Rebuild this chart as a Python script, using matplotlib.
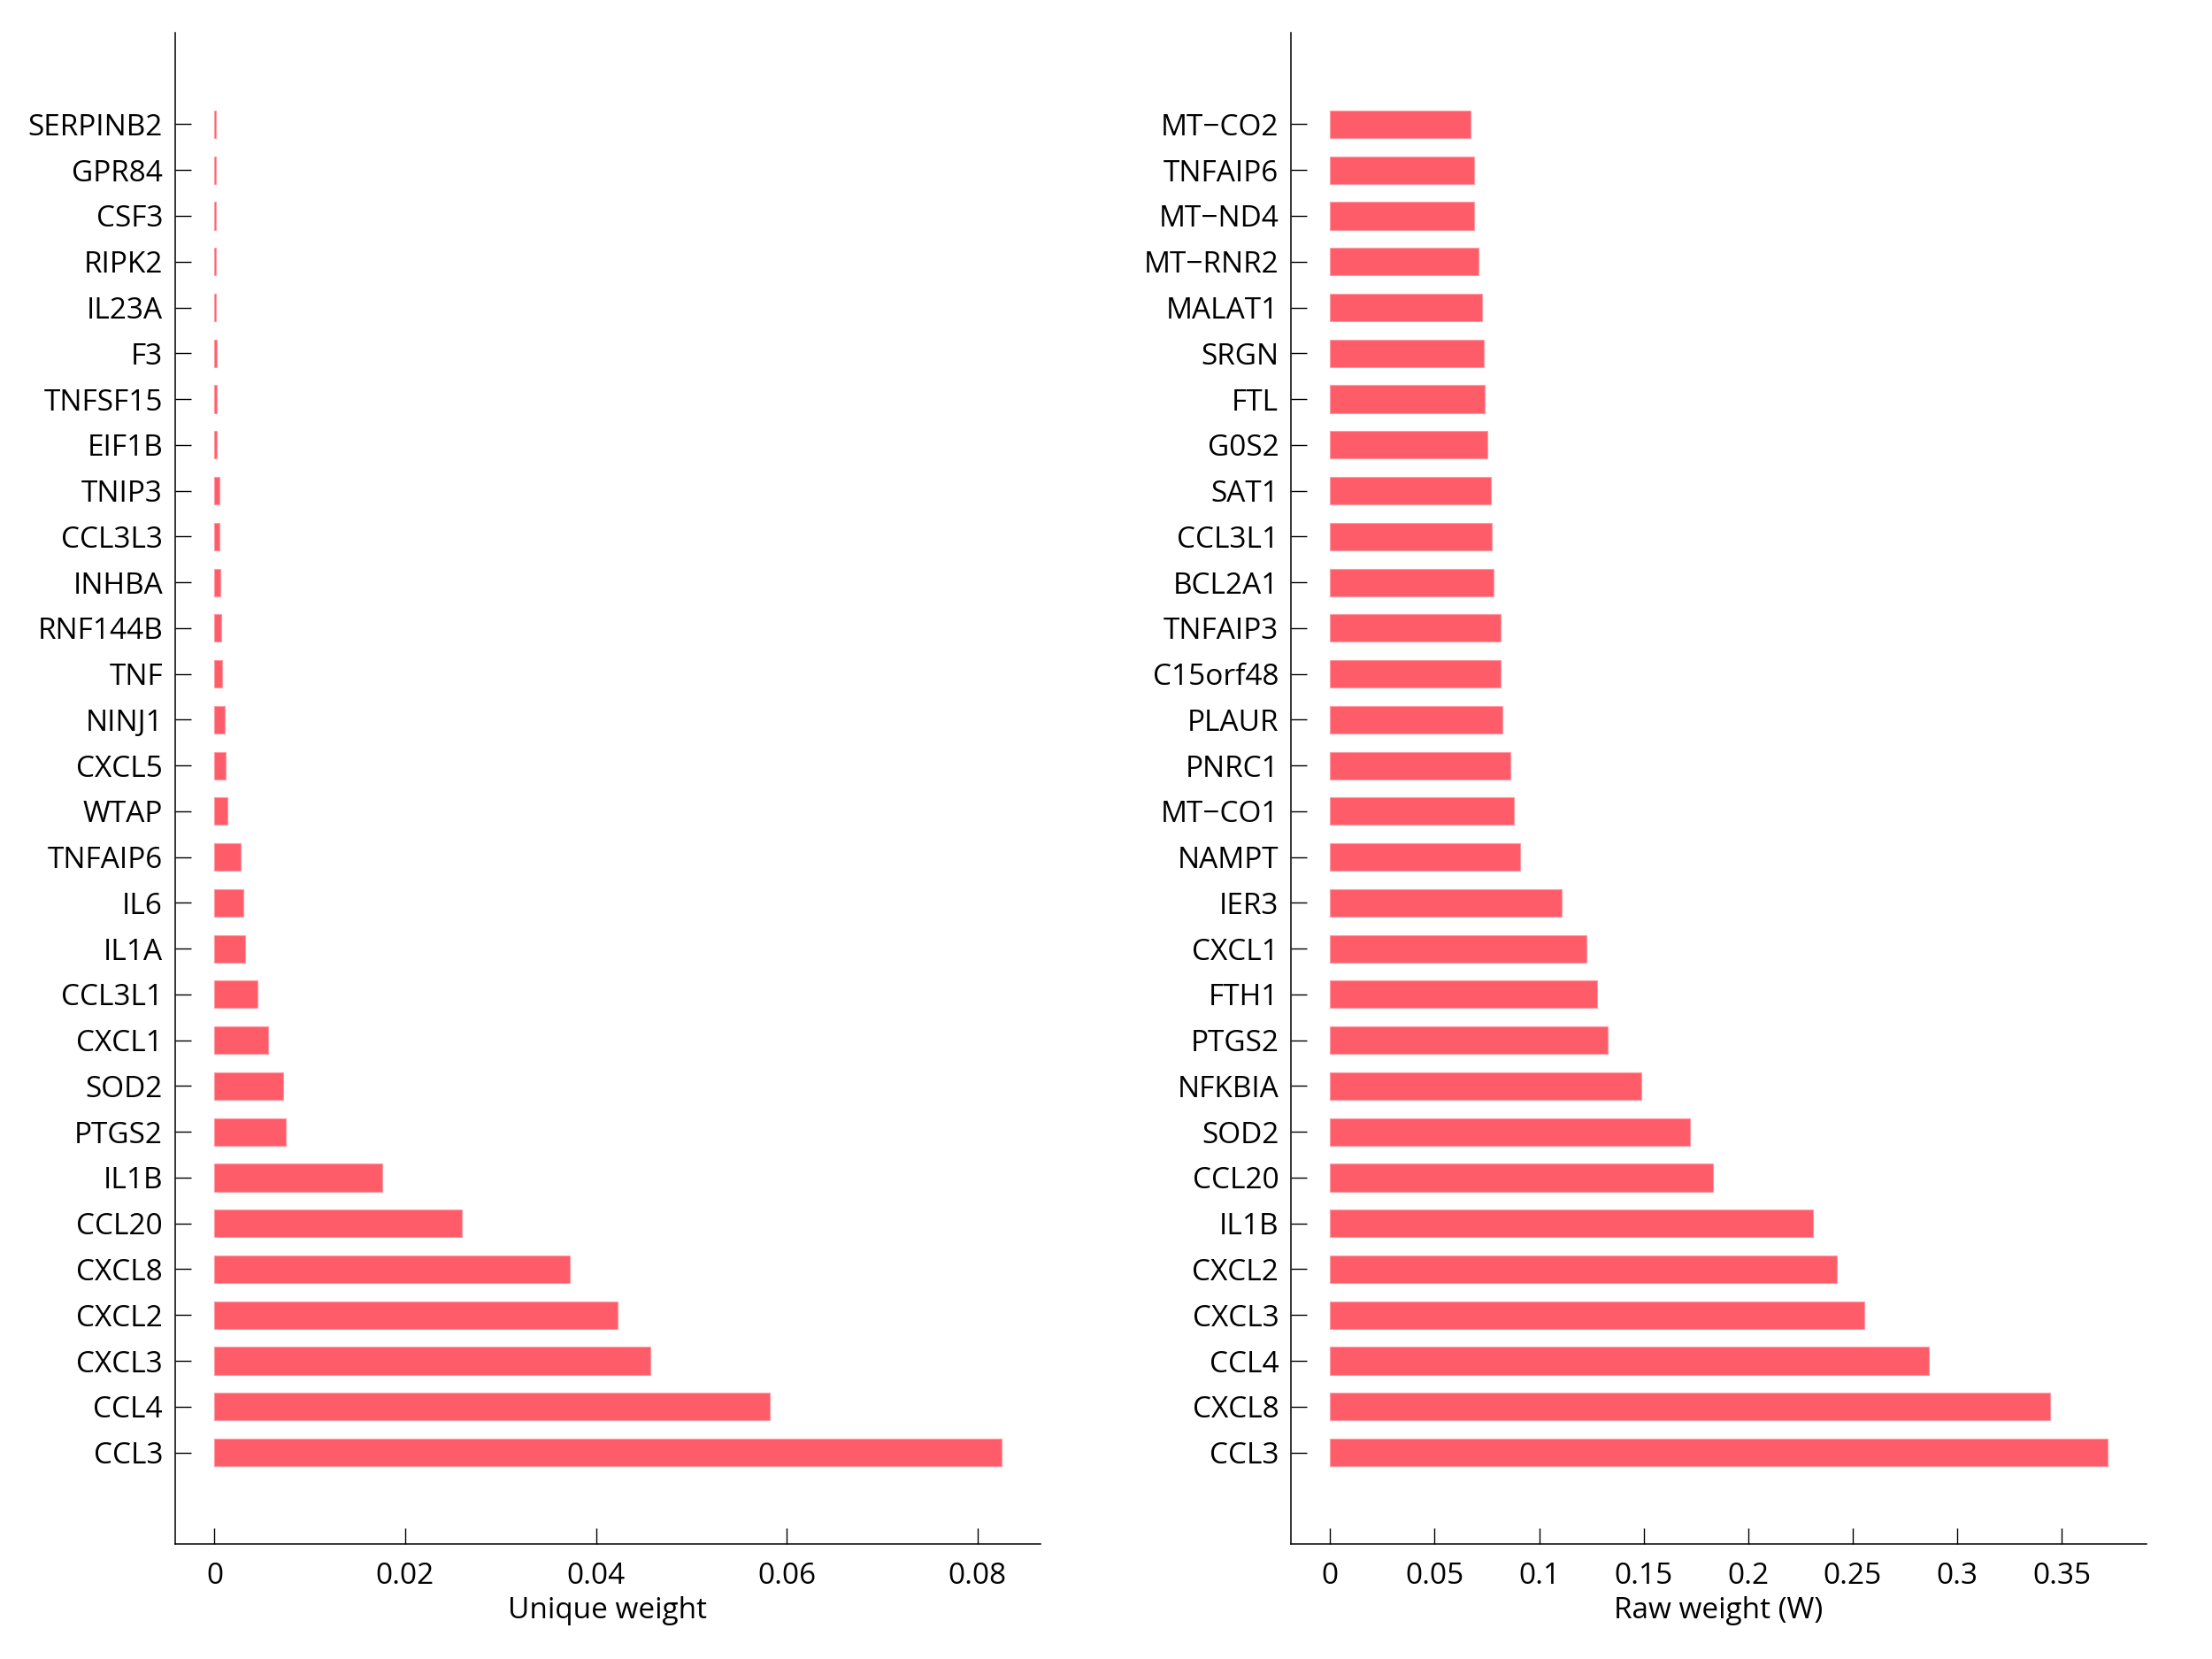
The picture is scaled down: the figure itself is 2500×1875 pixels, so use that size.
import numpy as np
from matplotlib import pyplot as plt

plt.rcParams['font.family'] = ['Open Sans', 'DejaVu Sans']

# genes listed bottom (largest) to top
unique_genes = ["CCL3", "CCL4", "CXCL3", "CXCL2", "CXCL8", "CCL20", "IL1B",
                "PTGS2", "SOD2", "CXCL1", "CCL3L1", "IL1A", "IL6", "TNFAIP6",
                "WTAP", "CXCL5", "NINJ1", "TNF", "RNF144B", "INHBA", "CCL3L3",
                "TNIP3", "EIF1B", "TNFSF15", "F3", "IL23A", "RIPK2", "CSF3",
                "GPR84", "SERPINB2"]
unique_vals = [0.0825, 0.0582, 0.0457, 0.0423, 0.0373, 0.0259, 0.0176,
               0.0075, 0.0072, 0.0056, 0.0045, 0.0032, 0.0030, 0.0027,
               0.00137, 0.00116, 0.00107, 0.00077, 0.00070, 0.00061, 0.00052,
               0.00049, 0.00025, 0.00021, 0.00019, 0.00017, 0.00015, 0.00014,
               0.00012, 0.00010]

raw_genes = ["CCL3", "CXCL8", "CCL4", "CXCL3", "CXCL2", "IL1B", "CCL20",
             "SOD2", "NFKBIA", "PTGS2", "FTH1", "CXCL1", "IER3", "NAMPT",
             "MT\u2212CO1", "PNRC1", "PLAUR", "C15orf48", "TNFAIP3", "BCL2A1",
             "CCL3L1", "SAT1", "G0S2", "FTL", "SRGN", "MALAT1", "MT\u2212RNR2",
             "MT\u2212ND4", "TNFAIP6", "MT\u2212CO2"]
raw_vals = [0.3719, 0.3443, 0.2866, 0.2555, 0.2422, 0.2309, 0.1832,
            0.1721, 0.1487, 0.1329, 0.1278, 0.1226, 0.1108, 0.0909,
            0.0878, 0.0863, 0.0824, 0.0817, 0.0814, 0.0781,
            0.0775, 0.0770, 0.0754, 0.0740, 0.0737, 0.0725, 0.0712,
            0.0691, 0.0689, 0.0673]

unique_ticks = [0, 0.02, 0.04, 0.06, 0.08]
unique_ticklabels = ["0", "0.02", "0.04", "0.06", "0.08"]
raw_ticks = [0, 0.05, 0.1, 0.15, 0.2, 0.25, 0.3, 0.35]
raw_ticklabels = ["0", "0.05", "0.1", "0.15", "0.2", "0.25", "0.3", "0.35"]

bar_color = "#ff5c6a"
edge_color = "#ff9aa3"

fig = plt.figure(figsize=(25, 18.75), dpi=100)
ax1 = fig.add_axes([0.0792, 0.0693, 0.3912, 0.911])
ax2 = fig.add_axes([0.5837, 0.0693, 0.3867, 0.911])


def draw(ax, genes, vals, ticks, ticklabels, xlabel):
    pos = np.arange(1, len(genes) + 1)
    ax.barh(pos, vals, height=0.6, color=bar_color, edgecolor=edge_color,
            linewidth=0.8)
    vmax = max(vals)
    ax.set_xlim(-0.05 * vmax, 1.05 * vmax)
    ax.set_ylim(-1, len(genes) + 2)
    ax.set_yticks(pos)
    ax.set_yticklabels(genes)
    ax.set_xticks(ticks)
    ax.set_xticklabels(ticklabels)
    ax.set_xlabel(xlabel, fontsize=24, labelpad=5)
    for s in ["top", "right"]:
        ax.spines[s].set_visible(False)
    for s in ["left", "bottom"]:
        ax.spines[s].set_linewidth(1.1)
    ax.tick_params(axis="both", direction="in", length=13, width=1.0,
                   labelsize=24)
    ax.tick_params(axis="y", pad=10)
    ax.tick_params(axis="x", pad=14)


draw(ax1, unique_genes, unique_vals, unique_ticks, unique_ticklabels,
     "Unique weight")
draw(ax2, raw_genes, raw_vals, raw_ticks, raw_ticklabels, "Raw weight (W)")

fig.savefig("out.png", dpi=100)
